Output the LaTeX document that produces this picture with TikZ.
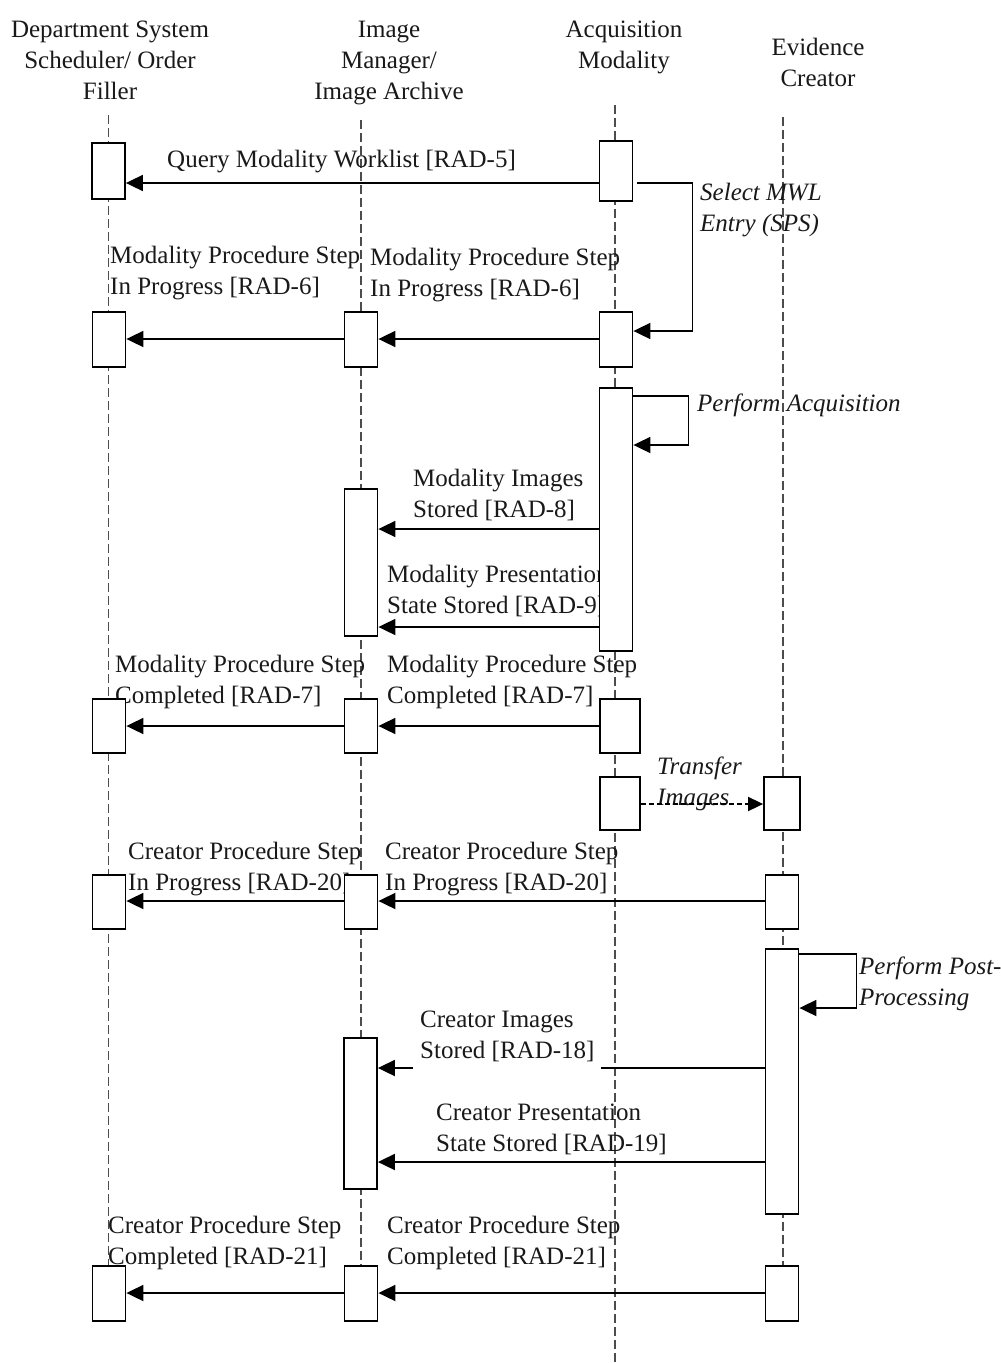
\documentclass[tikz,border=0pt]{standalone}
\usepackage{fontspec}
\setmainfont{Liberation Serif}
\usetikzlibrary{arrows.meta}
\tikzset{
  txt/.style={font=\fontsize{25}{31}\selectfont, text=black!90},
  hdr/.style={txt, anchor=north, align=center, inner sep=0pt},
  lbl/.style={txt, anchor=north west, align=left, inner sep=0pt},
  lbli/.style={lbl, font=\fontsize{25}{31}\selectfont\itshape},
  lifeline/.style={draw=black!70, line width=1.3pt, dash pattern=on 9pt off 4pt},
  actbox/.style={draw=black, line width=1.8pt, fill=white, inner sep=0pt,
                 minimum width=33pt},
  msg/.style={draw=black, line width=1.8pt,
              -{Triangle[length=17pt,width=16pt]}},
  async/.style={draw=black, line width=1.8pt, dash pattern=on 5pt off 3pt,
                -{Triangle[length=15pt,width=14pt]}}
}
\begin{document}
\begin{tikzpicture}[x=1pt, y=-1pt]
\fill[white] (0,0) rectangle (1001,1363);
\useasboundingbox (0,0) rectangle (1001,1363);

% participants
\node[hdr] (hdep) at (110,21) {Department System\\Scheduler/ Order\\Filler};
\node[hdr] (him)  at (389,21) {Image\\Manager/\\Image Archive};
\node[hdr] (hacq) at (624,21) {Acquisition\\Modality};
\node[hdr] (hec)  at (818,38) {Evidence\\Creator};

% lifeline ends
\coordinate (dep-top) at (108.5,115);  \coordinate (dep-bot) at (108.5,1265);
\coordinate (im-top)  at (361,120);    \coordinate (im-bot)  at (361,1265);
\coordinate (acq-top) at (615,105);    \coordinate (acq-bot) at (615,1363);
\coordinate (ec-top)  at (783,117);    \coordinate (ec-bot)  at (783,1265);

\draw[lifeline] (dep-top) -- (dep-bot);
\draw[lifeline] (im-top)  -- (im-bot);
\draw[lifeline] (acq-top) -- (acq-bot);
\draw[lifeline] (ec-top)  -- (ec-bot);

% message levels
\coordinate (yq)    at (0,183);
\coordinate (ymwl)  at (0,331);
\coordinate (yip)   at (0,339);
\coordinate (ypa1)  at (0,396);
\coordinate (ypa2)  at (0,445);
\coordinate (yimg)  at (0,529);
\coordinate (ypr)   at (0,627);
\coordinate (ycmp)  at (0,726);
\coordinate (ytr)   at (0,804);
\coordinate (ycip)  at (0,901);
\coordinate (ypp1)  at (0,954);
\coordinate (ypp2)  at (0,1008);
\coordinate (ycimg) at (0,1068);
\coordinate (ycpr)  at (0,1162);
\coordinate (ycc)   at (0,1293);

% message labels
\node[lbl]  (lq)    at (167,150)  {Query Modality Worklist [RAD-5]};
\node[lbli] (lmwl)  at (700,183)  {Select MWL\\Entry (SPS)};
\node[lbl]  (lip1)  at (110,246)  {Modality Procedure Step\\In Progress [RAD-6]};
\node[lbl]  (lip2)  at (370,248)  {Modality Procedure Step\\In Progress [RAD-6]};
\node[lbli] (lpa)   at (697,394)  {Perform Acquisition};
\node[lbl]  (limg)  at (413,469)  {Modality Images\\Stored [RAD-8]};
\node[lbl]  (lpr)   at (387,565)  {Modality Presentation\\State Stored [RAD-9]};
\node[lbl]  (lc1)   at (115,655)  {Modality Procedure Step\\Completed [RAD-7]};
\node[lbl]  (lc2)   at (387,655)  {Modality Procedure Step\\Completed [RAD-7]};
\node[lbli] (ltr)   at (657,757)  {Transfer\\Images};
\node[lbl]  (lcip1) at (128,842)  {Creator Procedure Step\\In Progress [RAD-20]};
\node[lbl]  (lcip2) at (385,842)  {Creator Procedure Step\\In Progress [RAD-20]};
\node[lbli] (lpp)   at (859,957)  {Perform Post-\\Processing};
\node[lbl]  (lcpr)  at (436,1104) {Creator Presentation\\State Stored [RAD-19]};
\node[lbl]  (lcc1)  at (108,1216) {Creator Procedure Step\\Completed [RAD-21]};
\node[lbl]  (lcc2)  at (387,1216) {Creator Procedure Step\\Completed [RAD-21]};

% activation boxes
\node[actbox, minimum height=56pt] (d1) at (108.5,171) {};
\node[actbox, minimum height=60pt] (a1) at (616,171) {};

\node[actbox, minimum height=55pt] (d2) at (109,339.5) {};
\node[actbox, minimum height=55pt] (m2) at (361,339.5) {};
\node[actbox, minimum height=55pt] (a2) at (616,339.5) {};

\node[actbox, minimum height=263pt] (a3) at (616,519.5) {};
\node[actbox, minimum height=147pt] (m3) at (361,562.5) {};

\node[actbox, minimum height=54pt] (d4) at (109,726) {};
\node[actbox, minimum height=54pt] (m4) at (361,726) {};
\node[actbox, minimum height=54pt, minimum width=40pt] (a4) at (620,726) {};

\node[actbox, minimum height=53pt, minimum width=40pt] (a5) at (620,803.5) {};
\node[actbox, minimum height=53pt, minimum width=36pt] (e5) at (782,803.5) {};

\node[actbox, minimum height=54pt] (d6) at (109,902) {};
\node[actbox, minimum height=54pt] (m6) at (361,902) {};
\node[actbox, minimum height=54pt] (e6) at (782,902) {};

\node[actbox, minimum height=265pt] (e7) at (782,1081.5) {};
\node[actbox, minimum height=151pt] (m7) at (360.5,1113.5) {};

\node[actbox, minimum height=55pt] (d8) at (109,1293.5) {};
\node[actbox, minimum height=55pt] (m8) at (361,1293.5) {};
\node[actbox, minimum height=55pt] (e8) at (782,1293.5) {};

% messages
\draw[msg] (a1.west |- yq) -- (d1.east |- yq);
\draw[msg] ([xshift=4pt]a1.east |- yq) -- ++(55,0) |- (a2.east |- ymwl);

\draw[msg] (a2.west |- yip) -- (m2.east |- yip);
\draw[msg] (m2.west |- yip) -- (d2.east |- yip);

\draw[msg] (a3.east |- ypa1) -- ++(55,0) |- (a3.east |- ypa2);
\draw[msg] (a3.west |- yimg) -- (m3.east |- yimg);
\draw[msg] (a3.west |- ypr) -- (m3.east |- ypr);

\draw[msg] (a4.west |- ycmp) -- (m4.east |- ycmp);
\draw[msg] (m4.west |- ycmp) -- (d4.east |- ycmp);

\draw[async] (a5.east |- ytr) -- (e5.west |- ytr);

\draw[msg] (e6.west |- ycip) -- (m6.east |- ycip);
\draw[msg] (m6.west |- ycip) -- (d6.east |- ycip);

\draw[msg] (e7.east |- ypp1) -- ++(57,0) |- (e7.east |- ypp2);
\draw[msg] (e7.west |- ycimg) -- (m7.east |- ycimg);
\draw[msg] (e7.west |- ycpr) -- (m7.east |- ycpr);

\draw[msg] (e8.west |- ycc) -- (m8.east |- ycc);
\draw[msg] (m8.west |- ycc) -- (d8.east |- ycc);

% label set on a white ground across its message line
\node[lbl, fill=white, inner xsep=7pt, inner ysep=8pt] (lcimg) at (413,1003)
  {Creator Images\\Stored [RAD-18]};
\end{tikzpicture}
\end{document}
